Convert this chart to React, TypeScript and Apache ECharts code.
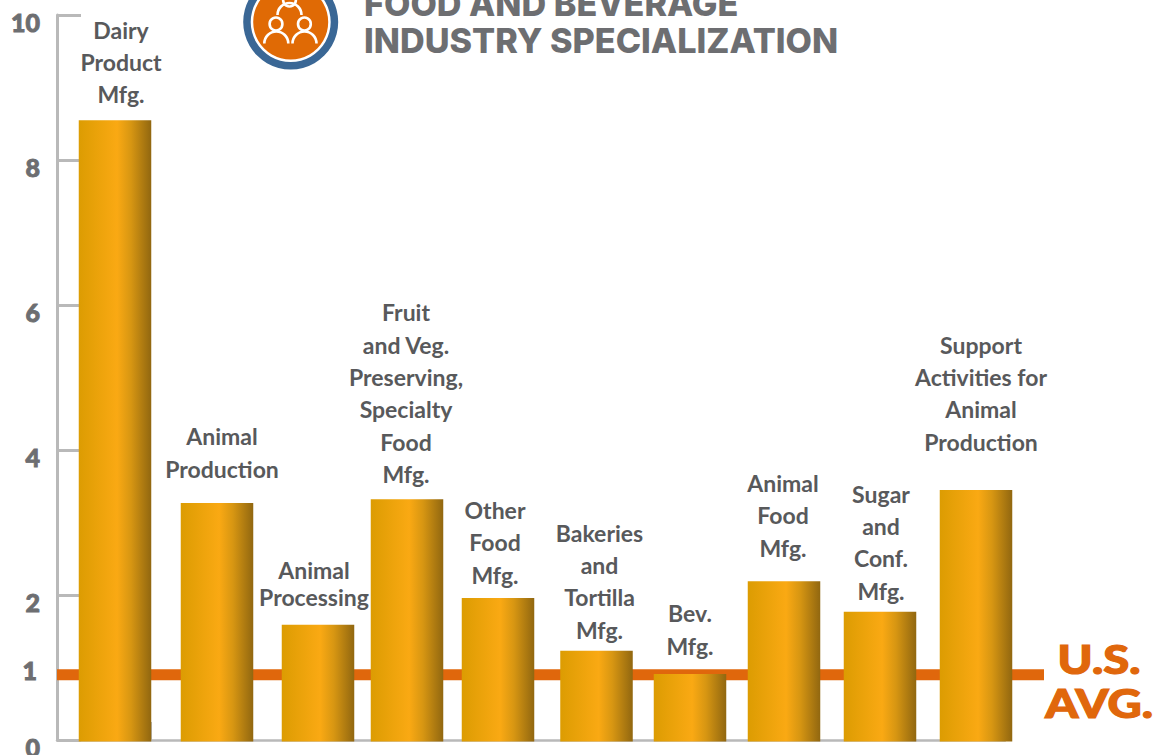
import React, { useEffect, useRef } from "react";
import * as echarts from "echarts";

const categories = [
  "Dairy\nProduct\nMfg.",
  "Animal\nProduction",
  "Animal\nProcessing",
  "Fruit\nand Veg.\nPreserving,\nSpecialty\nFood\nMfg.",
  "Other\nFood\nMfg.",
  "Bakeries\nand\nTortilla\nMfg.",
  "Bev.\nMfg.",
  "Animal\nFood\nMfg.",
  "Sugar\nand\nConf.\nMfg.",
  "Support\nActivities for\nAnimal\nProduction",
];
const specialization = [8.55, 3.27, 1.59, 3.32, 1.96, 1.23, 0.91, 2.19, 1.77, 3.45];
const usAverage = 0.9;
const yTicks = [0, 2, 4, 6, 8, 10];
const yLabels = [0, 2, 4, 6, 8, 10];
const extraYLabel = "1";
const titleLines = ["FOOD AND BEVERAGE", "INDUSTRY SPECIALIZATION"];
const avgLabel = "U.S.\nAVG.";

// layout only: the reference spaces its bars unevenly
const barNudge = [10.6, 17.8, 24, 18.2, 14.4, 18.1, 16.8, 16, 17.2, 18.4];
const labelNudgeX = [6, 5, -4, -1, -3, 3, 0, -1, 1, 5];
const labelGap = [10, 17, 14, 9, 7, 5, 12, 17, 5, 32];
const labelLineHeight = [32, 33, 27, 32.4, 32.5, 32.3, 33, 32.5, 32.3, 32.3];

const GREY = "#b9b9b9";
const ORANGE = "#e0670c";
const LABEL = "#58595b";
const DIGIT = "#6d6e71";
const FONT = "Lato";

const barFill = new echarts.graphic.LinearGradient(0, 0, 1, 0, [
  { offset: 0, color: "#dc9c02" },
  { offset: 0.53, color: "#faa913" },
  { offset: 0.72, color: "#d79612" },
  { offset: 1, color: "#916710" },
]);

const personStroke = { stroke: "#fff", lineWidth: 2.6, fill: "none" };
const logo = (): any[] => {
  const head = (cx: number, cy: number) => ({
    type: "circle", shape: { cx, cy, r: 6.4 }, style: { ...personStroke }, z: 12,
  });
  const body = (cx: number, cy: number) => ({
    type: "arc",
    shape: { cx, cy, r: 12, startAngle: Math.PI, endAngle: Math.PI * 2, clockwise: true },
    style: { ...personStroke }, z: 12,
  });
  return [
    { type: "circle", shape: { cx: 290.7, cy: 22, r: 47.5 }, style: { fill: "#3a6795" }, z: 10 },
    { type: "circle", shape: { cx: 290.7, cy: 22, r: 40 }, style: { fill: "#ffffff" }, z: 11 },
    { type: "circle", shape: { cx: 290.7, cy: 22, r: 37.5 }, style: { fill: "#e06a05" }, z: 11 },
    head(289.5, 0), body(289.5, 15),
    head(276, 24), body(276.3, 43.5),
    head(304.4, 24), body(304.5, 43.5),
  ];
};

export default function App() {
  const ref = useRef<HTMLDivElement>(null);
  useEffect(() => {
    document.body.style.margin = "0";
    document.body.style.overflow = "hidden";
    const chart = echarts.init(ref.current!, undefined, { renderer: "svg" });
    chart.setOption({
      animation: false,
      backgroundColor: "#ffffff",
      grid: { left: 57, right: 150, top: 15, bottom: 15, outerBoundsMode: "none" },
      xAxis: {
        type: "category",
        data: categories,
        axisLine: { lineStyle: { color: GREY, width: 2.5 } },
        axisTick: { show: false },
        axisLabel: { show: false },
      },
      yAxis: {
        type: "value",
        min: 0,
        max: 10,
        interval: 2,
        splitLine: { show: false },
        axisLine: { show: true, lineStyle: { color: GREY, width: 3 } },
        axisTick: {
          show: true,
          inside: true,
          length: 24,
          customValues: yTicks,
          lineStyle: { color: GREY, width: 3 },
        },
        axisLabel: {
          customValues: yLabels,
          margin: 17,
          fontFamily: FONT,
          fontWeight: 900,
          fontSize: 25,
          color: DIGIT,
          textBorderColor: DIGIT,
          textBorderWidth: 0.9,
          verticalAlign: "top",
          lineHeight: 14,
        },
      },
      series: [
        {
          type: "custom",
          name: "U.S. average",
          data: [[0, usAverage]],
          z: 2,
          clip: false,
          renderItem: (_: any, api: any) => {
            const [, y] = api.coord([0, api.value(1)]);
            const h = 11;
            return {
              type: "rect",
              shape: { x: 57, y: y - h / 2, width: 987, height: h },
              style: { fill: ORANGE },
            };
          },
        },
        {
          type: "custom",
          name: "Specialization",
          data: specialization.map((v, i) => [i, v]),
          z: 3,
          clip: false,
          encode: { x: 0, y: 1 },
          renderItem: (params: any, api: any) => {
            const i = api.value(0);
            const [cx, top] = api.coord([i, api.value(1)]);
            const [, base] = api.coord([i, 0]);
            const x = cx + barNudge[i];
            const w = 72.5;
            return {
              type: "group",
              children: [
                {
                  type: "rect",
                  shape: { x: x - w / 2, y: top, width: w, height: base - top + 1.5 },
                  style: { fill: barFill },
                },
                {
                  type: "text",
                  x: x + labelNudgeX[i],
                  y: top - labelGap[i],
                  style: {
                    text: categories[i],
                    fill: LABEL,
                    fontFamily: FONT,
                    fontWeight: 700,
                    fontSize: 23,
                    lineHeight: labelLineHeight[i],
                    align: "center",
                    verticalAlign: "bottom",
                  },
                },
              ],
            };
          },
        },
      ],
      graphic: {
        elements: [
          ...logo(),
          {
            type: "text", x: 364, y: -14,
            style: {
              text: titleLines[0], fill: DIGIT, fontFamily: "Inter", fontWeight: 800,
              fontSize: 34.2, align: "left", verticalAlign: "top",
            },
          },
          {
            type: "text", x: 364, y: 23,
            style: {
              text: titleLines[1], fill: DIGIT, fontFamily: "Inter", fontWeight: 800,
              fontSize: 34.2, align: "left", verticalAlign: "top",
            },
          },
          {
            type: "text", x: 1099, y: 636.5, scaleX: 1.18,
            style: {
              text: avgLabel, fill: ORANGE, stroke: ORANGE, lineWidth: 1.2,
              fontFamily: FONT, fontWeight: 900,
              fontSize: 40, lineHeight: 44, align: "center", verticalAlign: "top",
            },
          },
          {
            type: "text", x: 37, y: 670,
            style: {
              text: extraYLabel, fill: DIGIT, stroke: DIGIT, lineWidth: 0.9,
              fontFamily: FONT, fontWeight: 900, fontSize: 25,
              align: "right", verticalAlign: "middle",
            },
          },
          {
            type: "line",
            shape: { x1: 151, y1: 722, x2: 151, y2: 740 },
            style: { stroke: GREY, lineWidth: 2 },
          },
        ],
      },
    });
    return () => chart.dispose();
  }, []);
  return <div ref={ref} style={{ width: 1155, height: 755 }} />;
}
